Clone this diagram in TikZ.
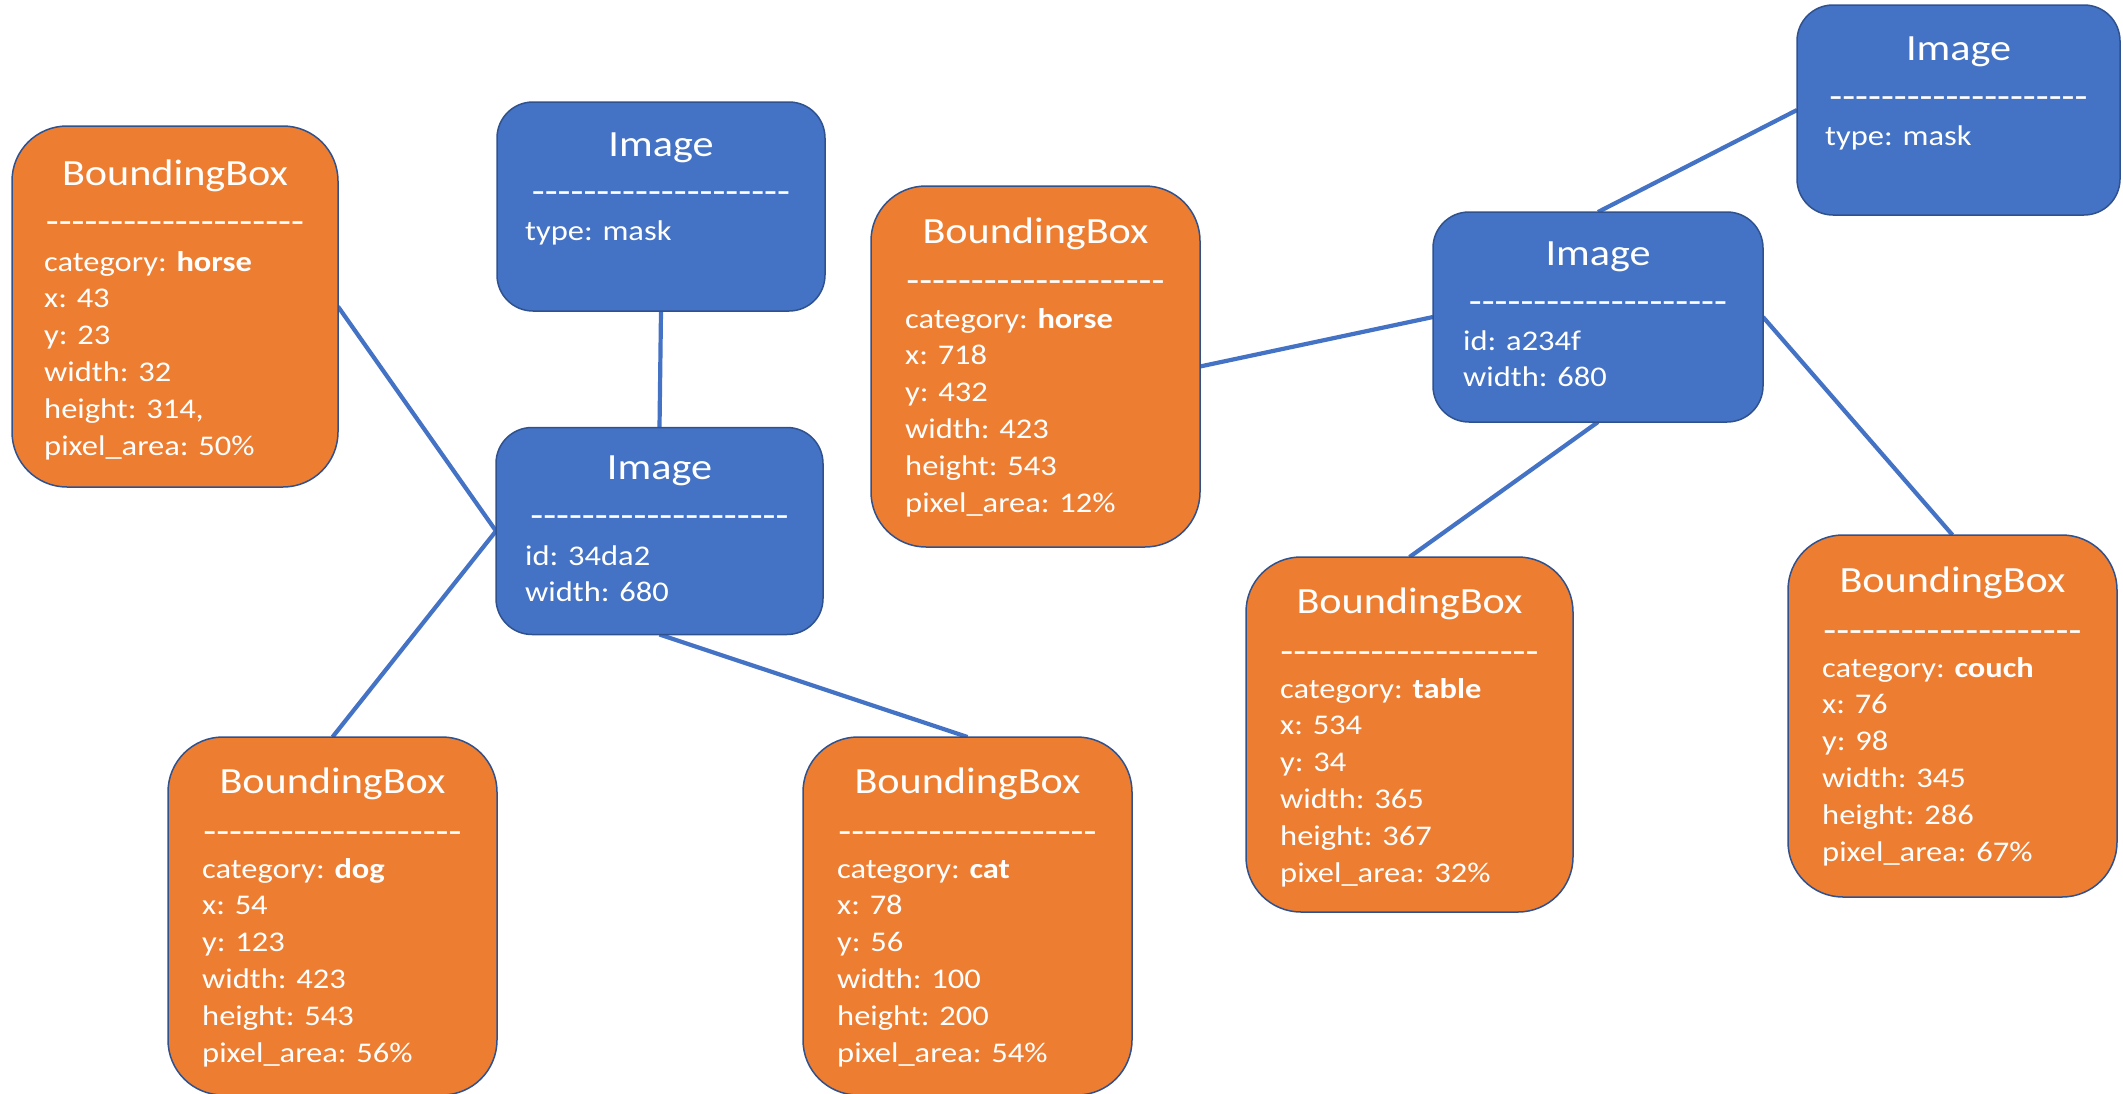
\documentclass[tikz,border=0pt]{standalone}
\usepackage{fontspec}
\setmainfont{Carlito}[FakeStretch=1.14]
% plain hyphens, no dash ligatures
\newfontfamily\rulefont{Carlito}[FakeStretch=1.14]
\usetikzlibrary{backgrounds}

\definecolor{boxorange}{HTML}{ED7D31}
\definecolor{boxblue}{HTML}{4472C4}
\definecolor{edgeblue}{HTML}{2F528F}
\definecolor{linkblue}{HTML}{4472C4}

\tikzset{
  shapebox/.style={draw=edgeblue, line width=1.5pt, inner sep=0pt, outer sep=0pt},
  bbox/.style={shapebox, fill=boxorange, rounded corners=55pt},
  ibox/.style={shapebox, fill=boxblue, rounded corners=36pt},
  ttl/.style={text=white, anchor=base, inner sep=0pt, font=\fontsize{37}{44}\selectfont},
  rule/.style={text=white, anchor=base, inner sep=0pt, font=\rulefont\fontsize{37}{44}\selectfont},
  field/.style={text=white, anchor=base west, inner sep=0pt, font=\fontsize{28.5}{36.8}\selectfont},
  link/.style={draw=linkblue, line width=4.2pt},
}

% box name, title baseline, rule baseline, first field baseline, field indent, title, fields
\newcommand\boxtext[7]{%
  \node[ttl] (#1-title) at ([yshift=-#2pt]#1.north) {#6};
  \node[rule] (#1-rule) at ([yshift=-#3pt]#1.north) {--------------------};
  \foreach \ln [count=\k from 0] in {#7} {
    \node[field] (#1-f\k) at ([xshift=#5pt, yshift={-(#4+36.8*\k)*1pt}]#1.north west) {\ln};
  }%
}

\begin{document}
\begin{tikzpicture}[x=1pt, y=-1pt]
\useasboundingbox (0,0) rectangle (2123,1093);

% boxes
\node[bbox, minimum width=326pt, minimum height=361pt] (bbA) at (175,306.5) {};
\node[ibox, minimum width=328pt, minimum height=209pt] (maskL) at (661,206.5) {};
\node[ibox, minimum width=327pt, minimum height=207pt] (imgL) at (659.5,531) {};
\node[bbox, minimum width=329pt, minimum height=361pt] (bbB) at (1035.5,366.5) {};
\node[ibox, minimum width=330pt, minimum height=210pt] (imgR) at (1598,317) {};
\node[ibox, minimum width=323pt, minimum height=210pt] (maskR) at (1958.5,110) {};
\node[bbox, minimum width=329pt, minimum height=358pt] (bbDog) at (332.5,916) {};
\node[bbox, minimum width=329pt, minimum height=358pt] (bbCat) at (967.5,916) {};
\node[bbox, minimum width=327pt, minimum height=355pt] (bbTable) at (1409.5,734.5) {};
\node[bbox, minimum width=329pt, minimum height=362pt] (bbCouch) at (1952.5,716) {};

% connectors
\begin{pgfonlayer}{background}
\draw[link] (bbA.east) -- (imgL.west);
\draw[link] (bbDog.north) -- (imgL.west);
\draw[link] (imgL.south) -- (bbCat.north);
\draw[link] (maskL.south) -- (imgL.north);
\draw[link] (bbB.east) -- (imgR.west);
\draw[link] (imgR.north) -- (maskR.west);
\draw[link] (imgR.south) -- (bbTable.north);
\draw[link] (imgR.east) -- (bbCouch.north);
\end{pgfonlayer}

% box contents
\boxtext{bbA}{59}{107}{145}{32}{BoundingBox}{category: \textbf{horse}, x: 43, y: 23, width: 32, {height: 314,}, pixel\_area: 50\%}
\boxtext{maskL}{54}{101.5}{138}{28}{Image}{type: mask}
\boxtext{imgL}{52}{99.5}{137.5}{29}{Image}{id: 34da2, width: 680}
\boxtext{bbB}{57}{106.5}{142}{34}{BoundingBox}{category: \textbf{horse}, x: 718, y: 432, width: 423, height: 543, pixel\_area: 12\%}
\boxtext{imgR}{53}{101.5}{138}{30}{Image}{id: a234f, width: 680}
\boxtext{maskR}{55}{103.5}{140}{28}{Image}{type: mask}
\boxtext{bbDog}{56}{106.5}{141}{34}{BoundingBox}{category: \textbf{dog}, x: 54, y: 123, width: 423, height: 543, pixel\_area: 56\%}
\boxtext{bbCat}{56}{106.5}{141}{34}{BoundingBox}{category: \textbf{cat}, x: 78, y: 56, width: 100, height: 200, pixel\_area: 54\%}
\boxtext{bbTable}{56}{106.5}{141}{34}{BoundingBox}{category: \textbf{table}, x: 534, y: 34, width: 365, height: 367, pixel\_area: 32\%}
\boxtext{bbCouch}{57}{107.5}{142}{34}{BoundingBox}{category: \textbf{couch}, x: 76, y: 98, width: 345, height: 286, pixel\_area: 67\%}

\end{tikzpicture}
\end{document}
